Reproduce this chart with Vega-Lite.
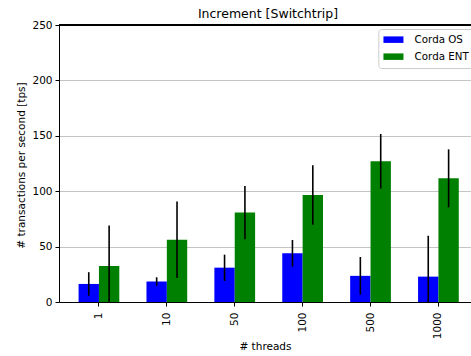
{
  "$schema": "https://vega.github.io/schema/vega-lite/v6.json",
  "autosize": {"type": "none"},
  "padding": {"left": 59, "top": 25, "right": 0, "bottom": 54},
  "width": 412,
  "height": 277,
  "title": {"text": "Increment [Switchtrip]", "fontSize": 12.5, "fontWeight": "normal", "color": "black", "offset": 0, "dx": 3, "font": "DejaVu Sans"},
  "data": {"values": [
    {"threads": "1", "series": "Corda OS", "value": 16.3, "low": 5.7, "high": 26.9},
    {"threads": "1", "series": "Corda ENT", "value": 32.5, "low": -4.1, "high": 69.1},
    {"threads": "10", "series": "Corda OS", "value": 18.5, "low": 14.7, "high": 22.3},
    {"threads": "10", "series": "Corda ENT", "value": 56.2, "low": 21.7, "high": 90.8},
    {"threads": "50", "series": "Corda OS", "value": 31.0, "low": 19.0, "high": 42.7},
    {"threads": "50", "series": "Corda ENT", "value": 80.8, "low": 56.6, "high": 104.7},
    {"threads": "100", "series": "Corda OS", "value": 44.0, "low": 31.9, "high": 56.0},
    {"threads": "100", "series": "Corda ENT", "value": 96.6, "low": 69.8, "high": 123.4},
    {"threads": "500", "series": "Corda OS", "value": 23.6, "low": 6.6, "high": 40.6},
    {"threads": "500", "series": "Corda ENT", "value": 127.0, "low": 102.3, "high": 151.6},
    {"threads": "1000", "series": "Corda OS", "value": 22.9, "low": -14.0, "high": 59.8},
    {"threads": "1000", "series": "Corda ENT", "value": 111.6, "low": 85.4, "high": 137.8}
  ]},
  "layer": [
    {
      "mark": {"type": "bar", "strokeWidth": 0},
      "encoding": {
        "x": {"field": "threads", "type": "nominal", "sort": ["1", "10", "50", "100", "500", "1000"],
              "scale": {"paddingInner": 0.4, "paddingOuter": 0.234, "align": 0.616},
              "axis": {"title": "# threads", "labelAngle": 270, "labelAlign": "right", "labelBaseline": "middle", "labelPadding": 6, "tickSize": 4, "titleY": 47, "titleBaseline": "alphabetic"}},
        "xOffset": {"field": "series", "type": "nominal", "sort": ["Corda OS", "Corda ENT"]},
        "y": {"field": "value", "type": "quantitative",
              "scale": {"domain": [0, 250], "nice": false, "zero": true},
              "axis": {"title": "# transactions per second [tps]", "values": [0, 50, 100, 150, 200, 250], "grid": true, "tickSize": 4, "labelPadding": 3, "titleX": -34.5, "titleY": 140, "titleAngle": 270, "titleBaseline": "alphabetic", "titleAlign": "center"}},
        "color": {"field": "series", "type": "nominal", "sort": ["Corda OS", "Corda ENT"],
                  "scale": {"domain": ["Corda OS", "Corda ENT"], "range": ["#0000ff", "#008000"]},
                  "legend": {"title": null, "orient": "none", "legendX": 319.3, "legendY": 4}}
      }
    },
    {
      "mark": {"type": "rule", "color": "black", "strokeWidth": 1.6, "clip": true},
      "encoding": {
        "x": {"field": "threads", "type": "nominal", "sort": ["1", "10", "50", "100", "500", "1000"]},
        "xOffset": {"field": "series", "type": "nominal", "sort": ["Corda OS", "Corda ENT"]},
        "y": {"field": "low", "type": "quantitative"},
        "y2": {"field": "high"}
      }
    },
    {
      "mark": {"type": "rule", "color": "black", "strokeWidth": 1},
      "encoding": {"y": {"datum": 250, "type": "quantitative"}}
    }
  ],
  "config": {
    "font": "DejaVu Sans",
    "view": {"stroke": null},
    "axis": {"labelFont": "DejaVu Sans", "titleFont": "DejaVu Sans", "labelFontSize": 10.5, "titleFontSize": 10.5, "titleFontWeight": "normal", "labelColor": "black", "titleColor": "black", "domainColor": "black", "tickColor": "black", "domainWidth": 1, "tickWidth": 1, "gridColor": "#c4c4c4", "gridWidth": 1},
    "axisX": {"grid": false},
    "legend": {"fillColor": "white", "strokeColor": "#cccccc", "cornerRadius": 3, "padding": 5.5, "rowPadding": 6, "symbolType": "M-1.1,-0.65H2.9V0.65H-1.1Z", "symbolSize": 100, "symbolStrokeWidth": 0, "symbolOpacity": 1, "labelFontSize": 10.3, "labelFont": "DejaVu Sans", "labelColor": "black", "labelOffset": 20.5}
  }
}
